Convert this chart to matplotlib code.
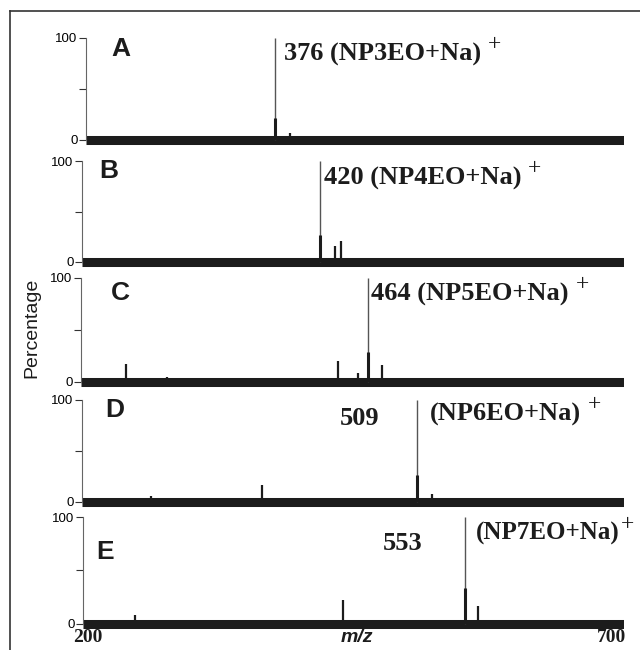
#!/usr/bin/env python3
"""Stacked ESI mass spectra of NPnEO sodium adducts (panels A-E)."""
import matplotlib
matplotlib.use("Agg")
import matplotlib.pyplot as plt
from matplotlib.lines import Line2D

MZ_MIN, MZ_MAX = 200, 700

PANELS = ["A", "B", "C", "D", "E"]
MAIN_MZ = [376, 420, 464, 509, 553]
ADDUCTS = ["(NP3EO+Na)", "(NP4EO+Na)", "(NP5EO+Na)", "(NP6EO+Na)", "(NP7EO+Na)"]
# height of the thick lower part of each base peak (%)
MAIN_STUB = [22, 27, 29, 26, 34]

# smaller peaks per panel: (m/z list, % list)
MINOR_MZ = [
    [390, 420, 441],
    [433, 439],
    [241, 279, 437, 455, 477],
    [264, 366, 523],
    [248, 440, 565],
]
MINOR_INT = [
    [7, 4, 4],
    [16, 21],
    [17, 5, 20, 9, 16],
    [6, 17, 8],
    [8, 22, 17],
]

# layout: pixel rows of the 100 and 0 ticks, and left edge of each axis
Y100_PX = [38, 161, 278, 400, 517]
Y0_PX = [140, 262, 382, 502, 624]
LEFT_PX = [86, 82, 81, 82, 83]
RIGHT_PX = 624
W, H = 640, 650
YMIN = -6

SANS = ["Liberation Sans", "DejaVu Sans"]
SERIF = ["Liberation Serif", "DejaVu Serif"]
INK = "#1c1c1c"

fig = plt.figure(figsize=(W / 100, H / 100), dpi=100)

# outer frame (top and left rules of the scanned figure)
fig.add_artist(Line2D([10 / W, 1.0], [1 - 11 / H, 1 - 11 / H], color="#333333", lw=1.2))
fig.add_artist(Line2D([10 / W, 10 / W], [0.0, 1 - 11 / H], color="#333333", lw=1.2))

LETTER_XY = [(232, 89), (225, 90), (236, 86), (230, 90), (220, 67)]
# label placement: (x of number, x of adduct or None when joined, y %)
LABEL_XY = [(384, None, 84), (423, None, 83), (467, None, 84),
            (456, 521, 82), (495, 563, 75)]
LABEL_SIZE = [19, 19, 19, 19, 18]
PLUS_OFFSET = [(5, 7), (5, 7), (5, 7), (5, 7), (1, 6)]


def add_plus(ax, t, dx, dy):
    ax.annotate("+", xy=(1.0, 0.5), xycoords=t, xytext=(dx, dy),
                textcoords="offset points", ha="left", va="center",
                fontsize=17, family=SERIF, color=INK)


for i, name in enumerate(PANELS):
    y100, y0 = Y100_PX[i], Y0_PX[i]
    span = y0 - y100
    bottom_px = y0 + (-YMIN) / 100 * span
    left = LEFT_PX[i] / W
    width = (RIGHT_PX - LEFT_PX[i]) / W
    ax = fig.add_axes([left, 1 - bottom_px / H, width, (bottom_px - y100) / H])
    ax.set_xlim(MZ_MIN, MZ_MAX)
    ax.set_ylim(YMIN, 100)

    # noisy baseline band
    ax.axhline(0, color=INK, lw=6.5, solid_capstyle="butt", zorder=2)

    # base peak: thin full-height line plus a heavier lower part
    ax.vlines(MAIN_MZ[i], 0, 100, color="#555555", lw=1.0, zorder=3)
    ax.vlines(MAIN_MZ[i], 0, MAIN_STUB[i], color=INK, lw=2.2, zorder=3)
    ax.vlines(MINOR_MZ[i], 0, MINOR_INT[i], color=INK, lw=1.6, zorder=3)

    for s in ("top", "right", "bottom"):
        ax.spines[s].set_visible(False)
    ax.spines["left"].set_bounds(0, 100)
    ax.spines["left"].set_color("#666666")
    ax.spines["left"].set_linewidth(0.8)
    ax.set_xticks([])
    ax.set_yticks([0, 100])
    ax.set_yticks([50], minor=True)
    ax.tick_params(axis="y", which="both", direction="out", length=5,
                   width=0.8, color="#333333", labelsize=9.5, pad=1)
    for t in ax.get_yticklabels():
        t.set_family(SANS)
    ax.patch.set_alpha(0)

    lx, ly = LETTER_XY[i]
    ax.text(lx, ly, name, fontsize=19, fontweight="bold", family=SANS,
            ha="center", va="center", color=INK)

    nx, adx, ty = LABEL_XY[i]
    pdx, pdy = PLUS_OFFSET[i]
    size = LABEL_SIZE[i]
    if adx is None:
        t = ax.text(nx, ty, f"{MAIN_MZ[i]} {ADDUCTS[i]}", fontsize=size,
                    fontweight="bold", family=SERIF, ha="left", va="center",
                    color=INK)
    else:
        ax.text(nx, ty, f"{MAIN_MZ[i]}", fontsize=19, fontweight="bold",
                family=SERIF, ha="center", va="center", color=INK)
        t = ax.text(adx, ty + (4 if i == 3 else 10), ADDUCTS[i], fontsize=size,
                    fontweight="bold", family=SERIF, ha="left", va="center",
                    color=INK)
    add_plus(ax, t, pdx, pdy)

fig.text(32 / W, 1 - 328 / H, "Percentage", rotation=90, fontsize=14,
         family=SANS, ha="center", va="center", color=INK)
fig.text(88 / W, 1 - 638 / H, "200", fontsize=14, fontweight="bold",
         family=SERIF, ha="center", va="center", color=INK)
fig.text(612 / W, 1 - 638 / H, "700", fontsize=14, fontweight="bold",
         family=SERIF, ha="center", va="center", color=INK)
fig.text(357 / W, 1 - 638 / H, "m/z", fontsize=14, fontweight="bold",
         style="italic", family=SANS, ha="center", va="center", color=INK)

fig.savefig("out.png", dpi=100, facecolor="white")
